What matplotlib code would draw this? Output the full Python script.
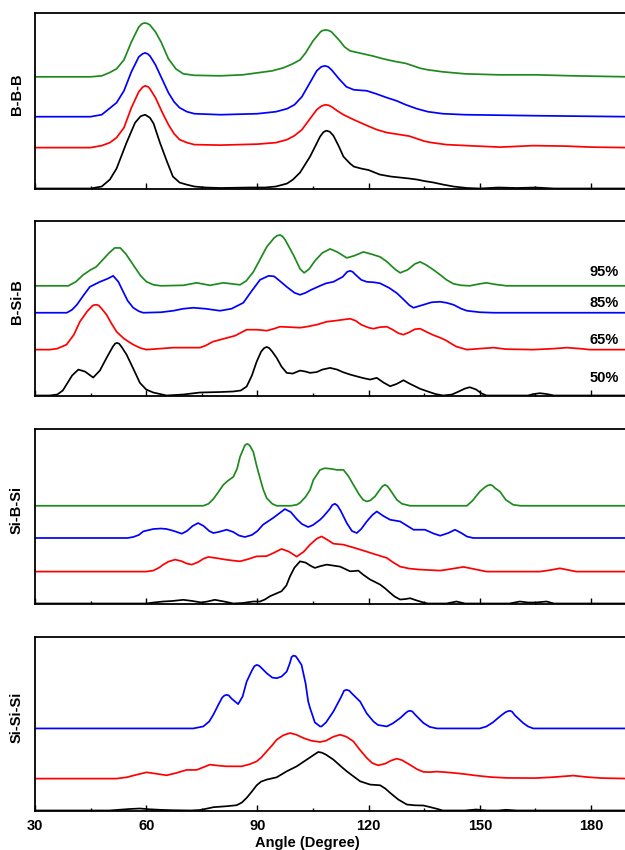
import matplotlib
matplotlib.use('Agg')
import matplotlib.pyplot as plt
from matplotlib.ticker import MultipleLocator
import numpy as np

plt.rcParams['font.family'] = ['Liberation Sans', 'DejaVu Sans']
plt.rcParams['font.weight'] = 'bold'

# angle (degree), intensity above each curve's own baseline (arbitrary units)
bbb_black = [(30, 0), (45, 0), (48, 2), (50.2, 9), (52, 20), (54.7, 46), (57, 66), (58.5, 72.5), (59.7, 74),
             (61, 71), (62, 65), (63.7, 46), (65.5, 28), (67.2, 12), (69, 6), (70.8, 4), (73, 2), (76, 1),
             (80, 0.5), (88, 1), (92, 1), (95, 2), (98, 5), (99.6, 9), (101.5, 16), (104.2, 32), (106.9, 52),
             (107.8, 56.5), (108.6, 58), (109.5, 57), (110.5, 53), (112, 42), (113.2, 32), (115, 25), (116, 22),
             (118, 20), (120, 18.5), (123, 14), (126, 12), (128.5, 11), (131, 10), (133, 9), (135, 7.5),
             (137.5, 6), (140, 4), (142.9, 2), (146.5, 0.5), (150, 0), (155, 1), (160, 0.5), (165, 1), (170, 0),
             (190, 0)]
bbb_red = [(30, 0), (45, 0), (48, 2), (50.2, 5), (52, 10), (54, 20), (56, 40), (58, 56), (59, 60.5), (59.7, 62),
           (60.5, 61), (61, 59), (62.5, 50), (64.5, 34), (66, 23), (67.5, 14), (69, 8), (71, 5), (73, 3),
           (80, 2.5), (90, 3.5), (95, 5), (98, 8), (100, 12), (102, 18), (104, 28), (106, 38), (107.2, 41.5),
           (108.3, 43), (109.2, 42.5), (110, 41), (111.5, 37), (113.2, 33), (116, 28), (119, 23), (122.2, 18),
           (125, 15), (128.5, 13), (131, 11.5), (133, 9), (135, 6.5), (137, 5), (141, 3), (146.5, 2),
           (155.5, 0.5), (164.4, 2), (173.4, 1.5), (180, 0.5), (190, 0)]
bbb_blue = [(30, 0), (45, 0), (48, 2), (50, 8), (52, 14), (54, 26), (56, 45), (58, 60), (59, 63), (59.7, 64),
            (60.4, 63), (61, 61), (62.5, 52), (64.5, 36), (66, 24), (67.5, 15), (69, 9), (71, 5), (73, 3),
            (80, 2), (90, 3), (95, 5), (98, 8), (100, 12), (102, 20), (104, 33), (106, 46), (107.2, 50),
            (108.2, 51), (109.1, 50), (110, 47), (112, 38), (114, 30), (116, 27), (119.5, 26), (122, 23),
            (125, 19), (127.5, 16), (130, 12), (133, 8), (136, 5), (140, 3), (146, 2), (165, 1), (190, 0)]
bbb_green = [(30, 0), (45, 0), (48, 1), (50, 4), (52, 8), (54, 17), (56, 35), (58, 50), (58.8, 53), (59.5, 54),
             (60.3, 53.5), (61, 52), (62.5, 45), (64, 35), (66, 18), (68, 8), (70, 3), (73, 1.5), (80, 1),
             (86, 2), (90, 4), (94, 6), (97, 9), (99.5, 13), (101.5, 17), (103, 24), (105, 36), (107, 45),
             (107.5, 46.3), (108.3, 47), (109.2, 46.5), (110, 45), (112, 37), (113.5, 30), (115, 26),
             (118, 23.5), (121, 21), (124, 18), (127, 15.5), (130, 13.5), (132, 11), (134, 8.5), (136, 7),
             (140, 5), (146, 3), (155, 2), (165, 2), (175, 1), (190, 0)]

bsib_black = [(30, 0), (34, 0), (36, 1), (37.5, 5), (38.5, 11), (40, 20), (41.7, 26), (43.5, 24), (45.7, 18),
              (47.5, 25), (49.3, 37.7), (51, 49), (51.6, 52), (52.1, 52.7), (52.7, 52), (53.5, 48), (54.7, 41),
              (56.5, 27), (58.3, 12.7), (60, 6), (61.9, 3), (65.5, 0), (70, 1), (74.5, 3), (80, 3.5),
              (83.4, 4), (85.5, 5), (87.1, 9), (88.5, 20), (89.8, 34), (91, 44), (91.8, 47.5), (92.5, 48.7),
              (93.2, 47.5), (94, 44), (95.2, 37.7), (96.5, 29), (97.9, 22.7), (99.5, 22), (101.5, 25),
              (103, 24), (104.2, 22.7), (106, 23.5), (107.5, 26), (109.6, 27.7), (111.5, 26), (113, 23.5),
              (115, 21), (117, 19), (118.5, 17.5), (120.4, 16), (122.2, 17.7), (124, 13), (125.8, 9.3),
              (127.5, 11.5), (129.4, 15.3), (131, 12), (133.9, 6.7), (136, 4), (138, 1.5), (140.1, 0),
              (142.5, 1), (144, 3.5), (146, 7), (147.3, 8.3), (149, 6), (150.5, 2), (151.8, 0), (163, 0),
              (164.5, 1.5), (166.2, 2.3), (168, 1.5), (170, 0), (190, 0)]
bsib_red = [(30, 0), (34, 0), (36, 1), (38.5, 5), (40.5, 15), (42.1, 28), (44, 38), (45.5, 44), (46, 44.8),
            (46.6, 45), (47.2, 44.3), (48, 41), (49.3, 35), (50.5, 27), (52, 18), (54, 11), (56.5, 5),
            (58.5, 1.5), (60.1, 0), (67.3, 2), (74.5, 2), (76, 4), (78, 8), (80, 10), (81.7, 11.7), (84, 14),
            (87.1, 20), (90, 20), (92.5, 19), (94.5, 21), (96.1, 23), (99, 22.5), (101.5, 22), (103.3, 23),
            (106, 25), (108.7, 28), (111, 29), (113, 30), (115, 31), (116.5, 29), (118, 25), (120, 22),
            (121.3, 21), (123, 22.5), (124.9, 23), (126.5, 20), (128, 16.5), (129.4, 15), (131, 17.5),
            (132.5, 20.5), (133.9, 21), (135.5, 18), (137.5, 14.5), (139.3, 12), (141, 9), (142.5, 5.5),
            (143.7, 3), (146.5, 0), (150, 1), (153.7, 2), (157, 0.5), (164.4, 0), (170, 1), (173.4, 2),
            (177, 1), (179.7, 0), (190, 0)]
bsib_blue = [(30, 0), (38.6, 0), (40, 3), (41.3, 8), (43, 17), (44.8, 26), (47.5, 31), (49.5, 34), (51.1, 37),
             (52.5, 31), (53.8, 21), (55, 12), (56.5, 5), (58, 1.5), (59.2, 0), (64, 0.5), (67.3, 2), (70, 4),
             (72.7, 5), (76, 4), (79.9, 2), (83, 4), (86.2, 10), (88.5, 22), (90.7, 33), (93, 37), (94.5, 36.5),
             (96, 32), (97.9, 26), (100, 20), (101.5, 18), (103, 20), (104.5, 23), (106.9, 27), (108.5, 29.5),
             (110.5, 31), (113, 36), (114.2, 41), (115, 42), (115.7, 41), (116.5, 38), (118, 33), (119.5, 31),
             (121.5, 30.5), (123.1, 29.5), (125.5, 25), (127.6, 19.7), (129.5, 13), (131, 7.5), (132.1, 5),
             (134.8, 8), (137, 10.5), (139.3, 11), (141, 10), (142.9, 8), (145, 4), (146.5, 2), (150, 0.5),
             (153.7, 0), (190, 0)]
bsib_green = [(30, 0), (39, 0), (41, 4), (43, 11), (45, 16), (46.5, 19), (48.5, 27), (50, 33), (51.5, 38),
              (53, 38), (54.5, 32), (56.5, 21), (58.5, 10), (60.1, 4), (62, 1), (64, 0), (70, 0.5), (73.6, 3),
              (77.2, 0.5), (80.8, 3), (85.3, 1), (87, 5), (88.9, 14), (90.5, 25), (92.5, 39), (94.5, 48),
              (95.3, 50.3), (96.1, 51), (96.8, 49.5), (97.5, 46), (99.7, 31), (101.5, 17), (102.6, 13),
              (104, 17), (105.5, 25), (107.5, 33), (109.6, 37), (111.5, 34), (114.1, 28), (116, 30),
              (118.6, 34), (121, 31.5), (123.1, 29), (125, 24), (127, 17), (128.5, 13), (130.5, 16),
              (132.5, 22), (133.9, 24), (135.5, 21), (137.5, 16), (139.3, 11), (141, 6), (142.9, 2),
              (145, 0.5), (147.3, 0), (150, 2), (151.8, 3), (154, 1.5), (157.2, 0), (190, 0)]

sibsi_black = [(30, 0), (60, 0), (62, 1), (64.6, 2), (67, 2.5), (70, 3.7), (72.5, 2.5), (74.9, 1), (76.5, 2),
               (78.5, 3.7), (81, 2), (83.5, 0), (86, 0.5), (88.9, 2), (90.7, 2), (92, 4), (93.4, 7.3),
               (96.5, 12.3), (97.8, 18), (98.8, 27.3), (100, 36), (101.5, 42.3), (103, 41), (104.5, 37.5),
               (105.5, 35.7), (107, 37.5), (108.7, 39), (110.5, 38), (112.3, 37), (114, 34), (115, 32.3),
               (116, 32.5), (117.2, 33), (118.5, 29), (120.4, 24), (121.5, 22), (123.1, 19), (124.5, 15),
               (125.8, 10.7), (127, 7), (128.5, 4), (130, 4.5), (131.2, 5.3), (133, 3), (134.8, 1), (136, 0),
               (141, 0), (143.7, 2), (146, 0), (158, 0), (160.8, 2), (163, 1), (165, 1), (168, 2), (170, 0),
               (190, 0)]
sibsi_red = [(30, 0), (60, 0), (61.9, 1), (63.5, 4), (64.6, 7), (66, 10), (67.8, 12), (69.5, 10.5), (71, 8),
             (72.3, 7), (74, 9.5), (75.5, 13), (76.8, 14.7), (79, 13.5), (81.4, 12), (83.5, 11), (85.3, 10.3),
             (87.5, 12.5), (89.8, 15.3), (92.5, 15.5), (94.5, 19), (96.5, 22.7), (98.5, 20), (100.6, 15),
             (102.5, 20), (104.2, 27), (106, 33), (107.3, 35.3), (108.8, 32), (110.5, 28), (113.2, 27),
             (116, 24), (119.5, 20), (122, 17), (124.9, 13.7), (126.5, 9.5), (128.5, 5), (131, 3), (133.9, 2),
             (139.3, 1), (142, 2.5), (145.6, 4.7), (148.5, 2.5), (151.8, 0), (166.2, 0), (169, 1.5),
             (171.6, 3.3), (174, 1.5), (176, 0), (190, 0)]
sibsi_blue = [(30, 0), (55, 0), (56.5, 1), (58, 3), (59.2, 6.6), (61.9, 9), (64, 9.5), (65.5, 9), (67.5, 7),
              (69.6, 4.3), (71, 7), (72.5, 12), (74, 15), (75.5, 12), (77, 7), (78.1, 5), (79.5, 6), (81.7, 8.3),
              (83.5, 6), (85, 2.5), (86.6, 1), (88.5, 3), (90, 7), (91.5, 13.3), (94.2, 20), (96, 25),
              (97.4, 29), (99, 26), (100.6, 19), (102, 14), (103.7, 11), (105, 13), (106.9, 18.3),
              (107.8, 21.6), (109.5, 29), (110.2, 33), (110.9, 34.3), (111.6, 32.5), (112.5, 27), (114.1, 15),
              (115.5, 7), (116.8, 5), (118, 9), (119.5, 16.6), (121, 23), (122.2, 26.6), (124, 22),
              (125.8, 18.3), (128.5, 16.6), (130.5, 12), (132.1, 8.3), (135.2, 8.3), (137.5, 4.5),
              (139.3, 2.3), (141.5, 5), (143.3, 8.3), (145, 5), (146.5, 1.5), (148.2, 0), (190, 0)]
sibsi_green = [(30, 0), (75.4, 0), (76.8, 2), (78.1, 6.7), (79.5, 14), (80.8, 21), (82, 25), (83.5, 29),
               (84.5, 37), (85.3, 49), (86.2, 57), (86.6, 60.5), (87.1, 62), (87.6, 61.5), (88, 60),
               (88.9, 54), (89.8, 40), (90.7, 27.7), (91.6, 16), (92.5, 7.7), (94, 2), (95.2, 0), (99, 0),
               (100.6, 1), (101.5, 3), (103, 9), (104.2, 16), (105.1, 26), (106.9, 36), (108.2, 37.7),
               (110, 37), (111.4, 36), (113.2, 36), (114.5, 30), (115.9, 21), (117.5, 11), (118.5, 6),
               (119.5, 4.3), (120.5, 5.5), (121.7, 9.3), (123, 16), (123.7, 19.5), (124.4, 21), (125.1, 19.5),
               (125.8, 16), (127.6, 6), (129, 2), (131.2, 0), (146.5, 0), (148, 5), (150, 14.3), (151.5, 19),
               (152.2, 20.5), (152.9, 21), (153.5, 20), (154, 18), (155.4, 14.3), (157, 6), (159, 1), (161, 0),
               (190, 0)]

sisisi_black = [(30, 0), (50, 0), (52.6, 0.7), (55.5, 1.5), (58.3, 2), (61, 1.2), (63.7, 0.7), (67, 0.3),
                (72, 0), (74.5, 0.5), (76.5, 2), (78.1, 3.3), (81.7, 4.3), (84.4, 5.3), (85.8, 8), (87.1, 12.7),
                (88.5, 19), (89.8, 25.3), (91, 29), (92.5, 31), (95.2, 33.3), (97.9, 39.3), (100.6, 44.3),
                (103.3, 51), (105.3, 56), (106.4, 58.7), (107.4, 58), (108.5, 56), (110.5, 51), (112.3, 45),
                (114.1, 39.3), (116, 34), (117.7, 29.3), (120.4, 26), (123.1, 25.3), (124.5, 22), (125.8, 17.7),
                (128, 11), (130.3, 6), (132.5, 5.2), (134.8, 5), (136.5, 3.5), (138.4, 1.7), (140, 0), (146, 0),
                (149, 1), (152, 0), (155, 0), (157, 0.7), (160, 0), (190, 0)]
sisisi_red = [(30, 0), (52, 0), (54.7, 1.3), (57, 3.5), (60.1, 6.3), (62.5, 5), (65.5, 3.3), (68, 5.5),
              (70.9, 8.7), (73.6, 8.7), (75.5, 11.5), (77.2, 14), (79.5, 13), (81.7, 12.3), (85.7, 12.3),
              (88, 14.5), (89.8, 17.3), (91, 21), (92.5, 27.3), (94, 33.5), (95.2, 39), (97, 43.5), (98.8, 45.7),
              (100.5, 44), (102.4, 40.7), (104.5, 38), (106.9, 36.7), (108.5, 38), (110.5, 42), (112.3, 44),
              (114, 42), (115.9, 37.3), (117.5, 29.5), (119.5, 20.7), (121, 15.5), (122.6, 13.3), (124.5, 15),
              (126, 18), (127.6, 20), (129, 18.5), (131.2, 13.7), (133, 9.5), (134.8, 6.7), (136.5, 6.5),
              (138.4, 7), (140.5, 6.5), (142.9, 5.7), (146, 4.5), (149.1, 3), (153, 1.5), (157.2, 0.7),
              (165, 0.5), (170, 1.5), (175.2, 3), (179, 1.5), (183, 0.5), (190, 0)]
sisisi_blue = [(30, 0), (72.7, 0), (75.4, 2), (77, 7), (78.1, 13.7), (79.5, 24), (80.5, 31), (81.1, 33),
               (81.7, 33.7), (82.3, 33), (83, 30), (84.8, 24.4), (86, 32), (87.1, 47), (88.5, 58), (89.2, 62.5),
               (89.8, 63.7), (90.4, 63), (91, 61), (92.5, 55.4), (94, 51), (95.2, 50.4), (96.5, 52), (97.9, 57),
               (98.8, 66), (99.2, 71.5), (99.7, 73), (100.3, 72.5), (100.8, 70), (101.9, 63.7), (103, 45),
               (103.7, 27), (104.2, 20.4), (105.5, 6), (106.9, 2), (107.3, 2), (108.5, 6), (110.5, 17),
               (112.5, 31), (113.4, 38), (114.1, 38.7), (114.8, 37.8), (115.5, 35), (117.7, 27), (119.5, 15),
               (121.3, 7), (122.5, 3.5), (124.9, 2), (126.5, 5), (128.5, 10.4), (130, 15.5), (130.6, 17.2),
               (131.2, 17.7), (131.8, 17), (132.5, 14), (134.8, 5.4), (136.5, 1.5), (138.4, 0), (150, 0),
               (151.8, 2), (153.5, 6), (155.4, 12), (156.8, 16), (157.5, 17.2), (158.1, 17.7), (158.7, 16.8),
               (159.5, 13), (161.7, 5.4), (163, 2), (164.4, 0), (190, 0)]

panel_names = ['B-B-B', 'B-Si-B', 'Si-B-Si', 'Si-Si-Si']
pct_labels = ['95%', '85%', '65%', '50%']
colors = {'black': 'black', 'red': '#ff0000', 'blue': '#0000ff', 'green': '#1e8a1e'}

# (curve, colour, vertical offset) per panel
panels = [
    [(bbb_black, 'black', 0), (bbb_red, 'red', 41), (bbb_blue, 'blue', 72), (bbb_green, 'green', 112)],
    [(bsib_black, 'black', 0), (bsib_red, 'red', 46), (bsib_blue, 'blue', 83), (bsib_green, 'green', 110)],
    [(sibsi_black, 'black', 0), (sibsi_red, 'red', 32), (sibsi_blue, 'blue', 65.7), (sibsi_green, 'green', 98)],
    [(sisisi_black, 'black', 0), (sisisi_red, 'red', 32), (sisisi_blue, 'blue', 82.3)],
]

W, H = 625, 850
fig = plt.figure(figsize=(W / 100, H / 100), dpi=100)

# pixel extents (top, bottom) of each panel
extents = [(13, 189), (221, 396), (429, 604), (637, 811)]
left_px, right_px = 35, 626
x_max = 30 + (right_px - left_px) / 3.707

axes = []
for i, (top, bot) in enumerate(extents):
    ax = fig.add_axes([left_px / W, 1 - bot / H, (right_px - left_px) / W, (bot - top) / H])
    for curve, cname, off in panels[i]:
        arr = np.array(curve)
        ax.plot(arr[:, 0], arr[:, 1] + off, color=colors[cname], lw=1.25,
                solid_joinstyle='round', antialiased=True)
    ax.set_xlim(30, x_max)
    ax.set_ylim(-0.5, bot - top)
    ax.set_yticks([])
    ax.xaxis.set_major_locator(MultipleLocator(30))
    ax.xaxis.set_minor_locator(MultipleLocator(15))
    ax.tick_params(axis='x', which='major', direction='in', length=4.5, width=1.0, labelsize=10.5, pad=6)
    ax.tick_params(axis='x', which='minor', direction='in', length=2.5, width=1.0)
    for s in ax.spines.values():
        s.set_linewidth(1.3)
    ax.spines['right'].set_visible(False)
    if i < 3:
        ax.tick_params(axis='x', which='major', labelbottom=False)
    fig.text(17 / W, 1 - (top + bot - 13) / 2 / H, panel_names[i], rotation=90,
             ha='center', va='center', fontsize=10.5, fontweight='bold')
    axes.append(ax)

for lab in axes[3].get_xticklabels():
    lab.set_fontweight('bold')

# concentration labels in the B-Si-B panel
for lab, yv in zip(pct_labels, [124, 93, 56, 18]):
    axes[1].text(187.5, yv, lab, ha='right', va='center', fontsize=10.5, fontweight='bold')

fig.text(307 / W, 1 - 843 / H, 'Angle (Degree)', ha='center', va='center', fontsize=10.5, fontweight='bold')

fig.savefig('out.png', dpi=100)
